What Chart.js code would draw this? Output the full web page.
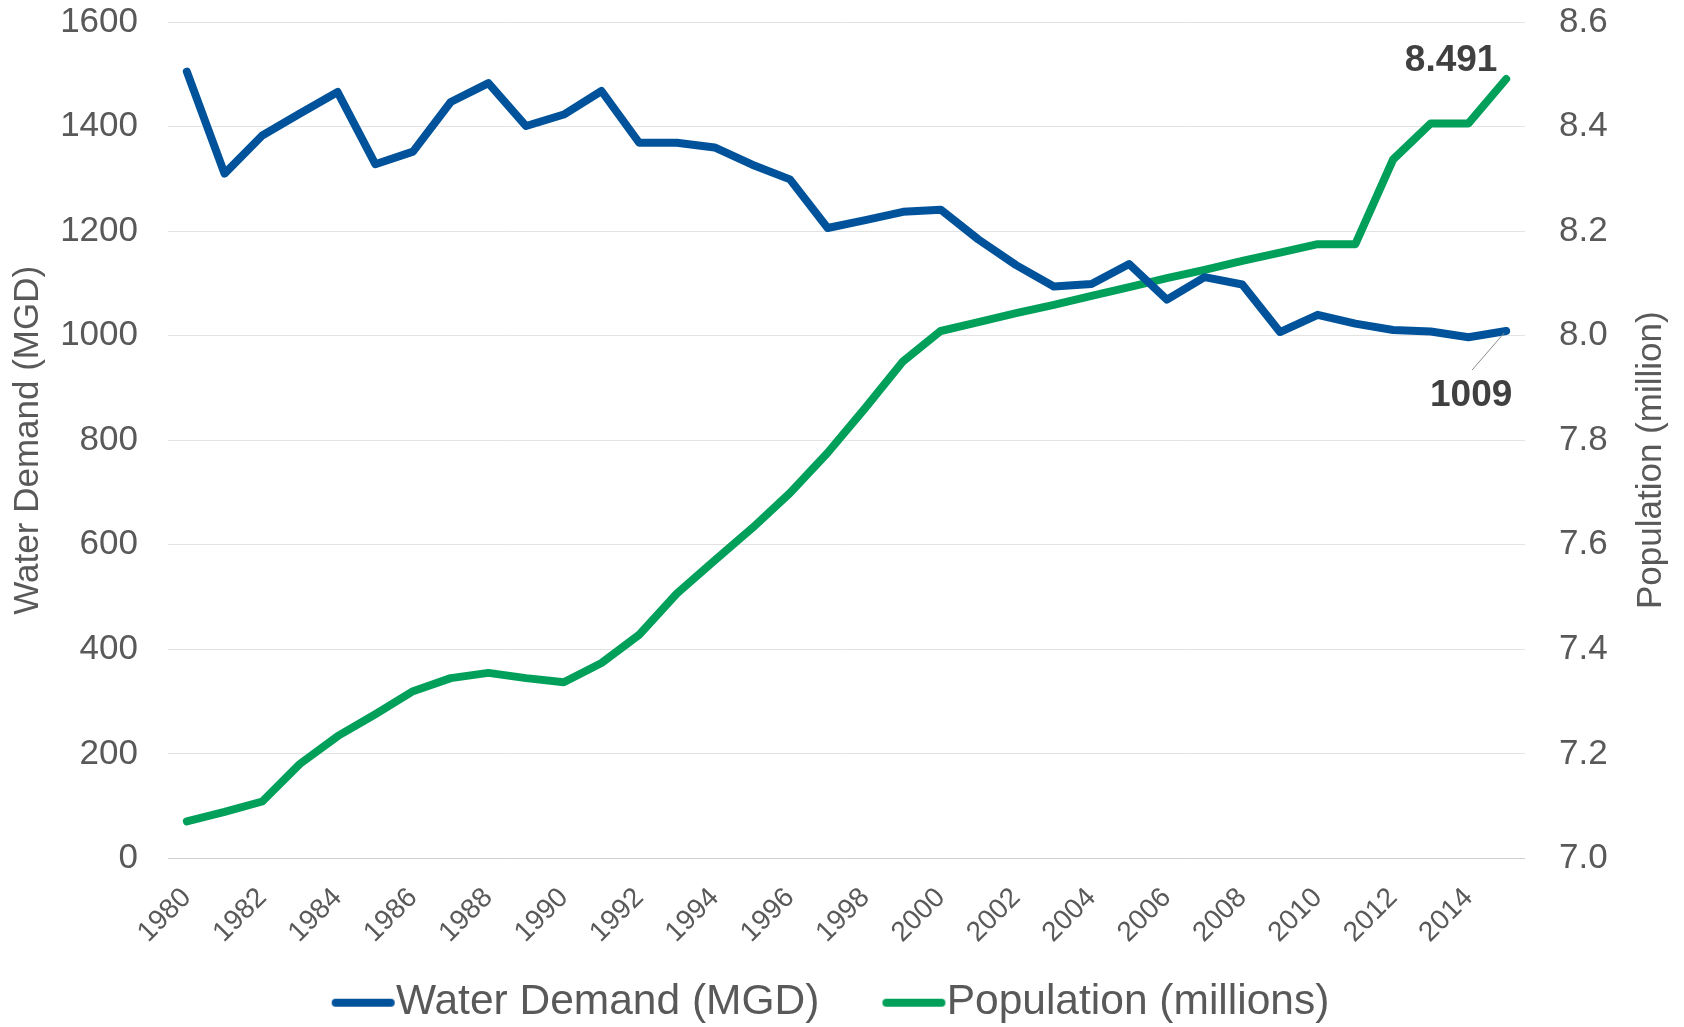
<!DOCTYPE html>
<html>
<head>
<meta charset="utf-8">
<script src="https://cdn.jsdelivr.net/npm/chart.js@4.4.1/dist/chart.umd.min.js"></script>
<style>
  html, body { margin: 0; padding: 0; background: #fff; }
  #wrap { width: 1684px; height: 1027px; position: relative; }
</style>
</head>
<body>
<div id="wrap"><canvas id="chart"></canvas></div>
<script>
// categories
const years = ['1980', '1981', '1982', '1983', '1984', '1985', '1986', '1987', '1988', '1989',
  '1990', '1991', '1992', '1993', '1994', '1995', '1996', '1997', '1998', '1999',
  '2000', '2001', '2002', '2003', '2004', '2005', '2006', '2007', '2008', '2009',
  '2010', '2011', '2012', '2013', '2014', '2015'];

// water demand, MGD (left axis)
const waterDemand = [1505, 1310, 1383, 1425, 1466, 1328, 1352, 1447, 1483, 1401,
  1423, 1468, 1369, 1369, 1360, 1327, 1299, 1206, 1221, 1237,
  1241, 1184, 1135, 1094, 1099, 1137, 1069, 1112, 1098, 1007,
  1040, 1023, 1011, 1008, 997, 1009];

// population, millions (right axis)
const population = [7.071, 7.089, 7.109, 7.181, 7.234, 7.276, 7.320, 7.345, 7.355, 7.345,
  7.337, 7.374, 7.428, 7.507, 7.570, 7.632, 7.699, 7.776, 7.862, 7.951,
  8.009, 8.026, 8.043, 8.059, 8.076, 8.093, 8.110, 8.126, 8.143, 8.159,
  8.175, 8.175, 8.337, 8.406, 8.406, 8.491];

const BLUE = '#00539b';
const GREEN = '#00a05a';
const TEXT = '#595959';
const FONT = '"Liberation Sans", Arial, sans-serif';

Chart.defaults.font.family = FONT;
Chart.defaults.color = TEXT;

// legend swatch: a short thick line that sits right against the label text
function swatch(color) {
  const c = document.createElement('canvas');
  c.width = 82;
  c.height = 14;
  const g = c.getContext('2d');
  g.strokeStyle = color;
  g.lineWidth = 8;
  g.lineCap = 'round';
  g.beginPath();
  g.moveTo(22, 7);
  g.lineTo(77, 7);
  g.stroke();
  return c;
}

// callouts on the last points + right axis title (reads bottom-to-top like the left one)
const annotations = {
  id: 'annotations',
  afterLayout(chart) {
    // let the rotated year labels hang below the (short) x axis box
    chart.scales.x.bottom = chart.height;
  },
  afterDatasetsDraw(chart) {
    const ctx = chart.ctx;
    const last = years.length - 1;
    const wPt = chart.getDatasetMeta(0).data[last];
    const pPt = chart.getDatasetMeta(1).data[last];
    ctx.save();
    ctx.font = 'bold 37px ' + FONT;
    ctx.fillStyle = '#404040';
    ctx.textAlign = 'center';
    ctx.textBaseline = 'middle';
    ctx.fillText(population[last].toFixed(3), pPt.x - 55, pPt.y - 18);

    ctx.strokeStyle = '#8c8c8c';
    ctx.lineWidth = 1;
    ctx.beginPath();
    ctx.moveTo(wPt.x - 2, wPt.y + 2);
    ctx.lineTo(wPt.x - 34, wPt.y + 39);
    ctx.stroke();
    ctx.fillText(String(waterDemand[last]), wPt.x - 35, wPt.y + 65);

    const area = chart.chartArea;
    ctx.font = '35px ' + FONT;
    ctx.fillStyle = TEXT;
    ctx.translate(1651, (area.top + area.bottom) / 2 + 20);
    ctx.rotate(-Math.PI / 2);
    ctx.fillText('Population (million)', 0, 0);
    ctx.restore();
  }
};

new Chart(document.getElementById('chart'), {
  type: 'line',
  data: {
    labels: years,
    datasets: [
      {
        label: 'Water Demand (MGD)',
        data: waterDemand,
        yAxisID: 'y',
        borderColor: BLUE,
        backgroundColor: BLUE,
        borderWidth: 8,
        borderCapStyle: 'round',
        borderJoinStyle: 'round',
        pointRadius: 0,
        pointStyle: swatch(BLUE),
        tension: 0
      },
      {
        label: 'Population (millions)',
        data: population,
        yAxisID: 'y1',
        borderColor: GREEN,
        backgroundColor: GREEN,
        borderWidth: 8,
        borderCapStyle: 'round',
        borderJoinStyle: 'round',
        pointRadius: 0,
        pointStyle: swatch(GREEN),
        tension: 0
      }
    ]
  },
  options: {
    responsive: true,
    maintainAspectRatio: false,
    animation: false,
    layout: { autoPadding: false, padding: { top: 22, bottom: -7, left: 0, right: 20 } },
    plugins: {
      legend: {
        position: 'bottom',
        labels: {
          usePointStyle: true,
          pointStyleWidth: 40,
          padding: 66,
          color: TEXT,
          font: { size: 42.5 }
        }
      },
      tooltip: { enabled: false }
    },
    scales: {
      x: {
        offset: true,
        grid: { display: false, drawTicks: false },
        border: { display: false },
        ticks: {
          autoSkip: false,
          minRotation: 45,
          maxRotation: 45,
          padding: 23,
          color: TEXT,
          font: { size: 28 },
          callback: (v, i) => (i % 2 === 0 ? years[i] : '')
        },
        afterFit(s) { s.height = 57; }
      },
      y: {
        position: 'left',
        min: 0,
        max: 1600,
        ticks: { stepSize: 200, padding: 0, color: TEXT, font: { size: 35 }, callback: (v) => String(v) },
        grid: {
          drawTicks: true,
          tickLength: 30,
          tickColor: 'transparent',
          lineWidth: 1,
          color: (c) => (c.tick && c.tick.value === 0 ? '#d0d0d0' : '#e3e3e3')
        },
        border: { display: false },
        title: {
          display: true,
          text: 'Water Demand (MGD)',
          color: TEXT,
          font: { size: 35 },
          padding: { top: 7, bottom: 0 }
        },
        afterFit(s) { s.width = 168; }
      },
      y1: {
        position: 'right',
        min: 7.0,
        max: 8.6,
        ticks: {
          stepSize: 0.2,
          padding: 0,
          color: TEXT,
          font: { size: 35 },
          callback: (v) => v.toFixed(1)
        },
        grid: {
          drawOnChartArea: false,
          drawTicks: true,
          tickLength: 34,
          tickColor: 'transparent',
          color: 'transparent'
        },
        border: { display: false },
        afterFit(s) { s.width = 139; }
      }
    }
  },
  plugins: [annotations]
});
</script>
</body>
</html>
